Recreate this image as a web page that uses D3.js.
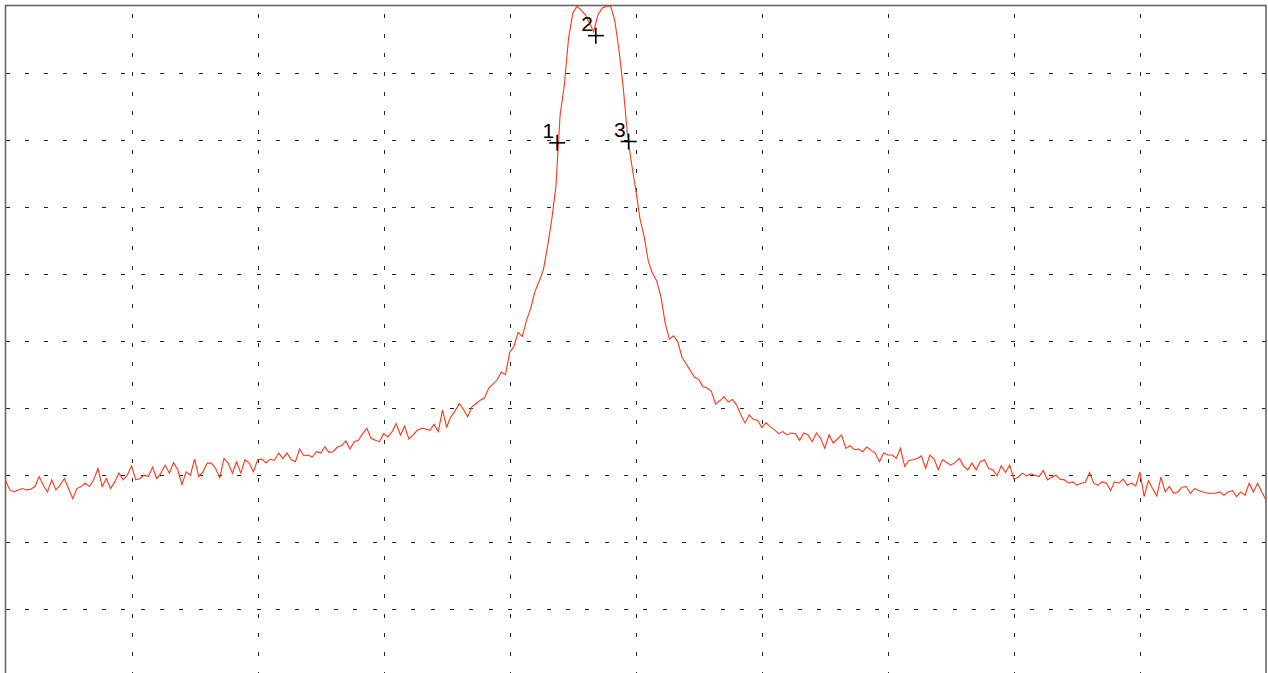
<!DOCTYPE html>
<meta charset="utf-8">
<style>
  body { margin: 0; background: #fff; }
  svg { display: block; }
  .grid line { stroke: #222; stroke-width: 1; shape-rendering: crispEdges; }
  .grid path.domain { display: none; }
  .grid text { display: none; }
  .frame { fill: none; stroke: #666; stroke-width: 1.6; }
  .trace { fill: none; stroke: #ff3514; stroke-width: 1.1; }
  .mk line { stroke: #000; stroke-width: 1.6; }
  .mk text { font: 21px "Liberation Sans", Arial, sans-serif; fill: #000; }
</style>
<body></body>
<script src="https://cdn.jsdelivr.net/npm/d3@7/dist/d3.min.js"></script>
<script>

// sweep: 301 points, level in dBm (ref 0 dBm, 10 dB/div)
var nPoints = 301;
var xDivs = [30, 60, 90, 120, 150, 180, 210, 240, 270];
var yDivs = [-10, -20, -30, -40, -50, -60, -70, -80, -90];

var level = [
  -70.8, -72.3, -72.6, -72.3, -72.1, -72.3, -72.2, -71.8, -70.3, -71.6,
  -72.6, -70.8, -72.3, -71.6, -70.6, -72.1, -73.6, -72.1, -71.8, -71.3,
  -71.8, -70.8, -69.1, -71.8, -70.6, -72.1, -71.1, -69.8, -70.8, -70.1,
  -68.7, -70.8, -70.6, -70.1, -70.3, -68.9, -70.6, -69.8, -68.6, -69.8,
  -68.2, -69.3, -71.5, -69.6, -70.1, -67.7, -70.3, -69.6, -68.3, -68.3,
  -69.1, -70.5, -67.6, -68.3, -69.8, -68.1, -69.8, -67.8, -68.3, -69.6,
  -67.8, -67.7,
  -68.3, -67.7, -67.9, -66.8, -67.6, -66.8, -67.8, -68.1, -66.2, -67.2,
  -67.1, -67.4, -66.6, -66.8, -65.9, -66.7, -66.6, -65.9, -65.7, -65.0,
  -66.2, -65.1, -64.9, -63.9, -63.1, -64.6, -64.9, -65.1, -63.9, -64.4,
  -63.6, -62.4, -64.1, -62.8, -64.7, -64.1, -63.4, -63.1, -63.2, -63.4,
  -62.5, -63.6, -60.4, -62.9, -61.4, -60.5, -59.4, -60.3, -61.4, -59.9,
  -59.4, -58.9, -58.6, -57.1, -56.5, -55.9, -54.7, -55.1,
  -51.8, -50.9, -48.8, -49.4, -47.0, -45.2, -42.7, -41.2, -39.5, -36.0,
  -32.0, -27.0, -16.3, -11.9, -4.9, -1.2, -0.1, -0.7, -1.4, -2.7,
  -3.9, -1.4, -0.4, -0.1, -0.1, -2.2, -6.6, -12.1, -19.1, -23.6,
  -27.5, -31.8, -34.5,
  -38.2, -40.0, -41.1, -43.5, -47.4, -49.8, -49.3, -50.2, -52.5, -53.5,
  -54.5, -55.5, -55.8, -56.9, -57.1, -57.6, -59.5, -59.0, -58.4, -59.2,
  -58.8, -59.6, -61.1, -62.3, -61.1, -61.8, -61.9, -63.0, -62.3, -62.9,
  -63.3, -63.9, -63.6, -64.1, -63.8, -63.9, -64.9, -63.8, -64.1, -65.1,
  -63.8, -64.6, -66.1, -64.1, -65.3,
  -64.7, -64.1, -66.1, -65.7, -66.3, -66.2, -66.6, -65.9, -66.4, -66.8,
  -68.1, -66.8, -67.1, -67.1, -67.6, -66.1, -68.8, -67.9, -67.8, -67.6,
  -67.2, -69.1, -67.1, -67.7, -69.3, -67.8, -68.2, -68.6, -68.2, -67.6,
  -68.7, -69.3, -68.3, -69.3, -68.1, -67.8, -69.1, -69.3, -70.2, -68.7,
  -69.7, -68.6, -70.7, -70.4, -69.8, -70.2, -69.9, -70.1, -70.3, -69.4,
  -70.8, -70.4,
  -70.1, -70.7, -70.8, -71.3, -71.1, -71.6, -71.3, -71.2, -69.7, -71.3,
  -71.6, -71.1, -71.3, -72.4, -71.1, -71.3, -70.7, -71.6, -71.3, -71.7,
  -69.6, -73.3, -70.9, -72.1, -73.2, -70.4, -72.6, -71.8, -72.8, -72.6,
  -71.9, -71.8, -72.8, -72.1, -72.4, -72.6, -72.8, -72.8, -72.8, -72.6,
  -73.1, -72.6, -72.4, -73.3, -72.6, -73.1, -71.3, -72.6, -71.3, -72.6,
  -73.8
];

var markerIdx = [131.3, 140.5, 148.3];
var markerLvl = [-20.5, -4.5, -20.3];
var markerLbl = ["1", "2", "3"];

var W = 1268, H = 673;
var margin = {top: 5.5, left: 5.5, right: 2, bottom: -2.5};
var w = W - margin.left - margin.right,
    h = H - margin.top - margin.bottom;

var svg = d3.select("body").append("svg")
    .attr("width", W)
    .attr("height", H)
  .append("g")
    .attr("transform", "translate(" + margin.left + "," + margin.top + ")");

var x = d3.scaleLinear().domain([0, nPoints - 1]).range([0, w]);
var y = d3.scaleLinear().domain([-100, 0]).range([h, 0]);

svg.append("defs").append("clipPath").attr("id", "clip")
  .append("rect").attr("width", w).attr("height", h);

// grid via axes, dashed
svg.append("g").attr("class", "grid")
    .attr("transform", "translate(0," + h + ")")
    .call(d3.axisBottom(x).tickValues(xDivs).tickSize(-h))
  .selectAll("line").attr("stroke-dasharray", "4,15.33");

svg.append("g").attr("class", "grid")
    .call(d3.axisLeft(y).tickValues(yDivs).tickSize(-w))
  .selectAll("line").attr("stroke-dasharray", "4,15.33");

svg.append("rect").attr("class", "frame")
    .attr("width", w).attr("height", h);

var line = d3.line()
    .x(function(d, i) { return x(i); })
    .y(function(d) { return y(d); });

svg.append("path").attr("class", "trace")
    .attr("clip-path", "url(#clip)")
    .attr("d", line(level));

var mk = svg.selectAll("g.mk")
    .data(markerIdx)
    .enter().append("g")
    .attr("class", "mk")
    .attr("transform", function(d, i) { return "translate(" + x(d) + "," + y(markerLvl[i]) + ")"; });

mk.append("line").attr("x1", -8).attr("x2", 8);
mk.append("line").attr("y1", -8).attr("y2", 8);
mk.append("text")
    .attr("x", -3).attr("y", -5)
    .attr("text-anchor", "end")
    .text(function(d, i) { return markerLbl[i]; });

</script>
